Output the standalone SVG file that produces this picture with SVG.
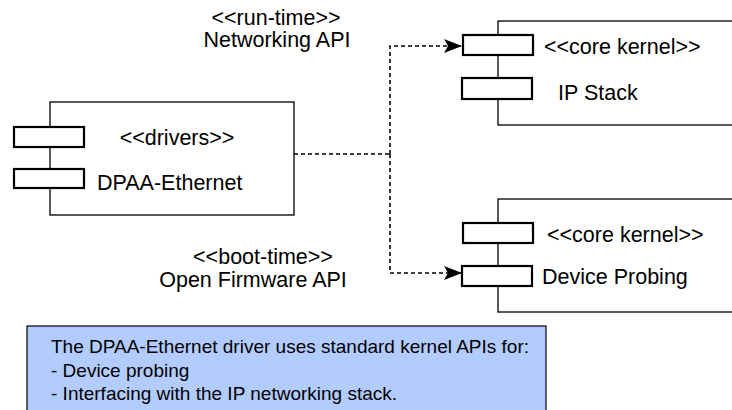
<svg xmlns="http://www.w3.org/2000/svg" width="732" height="410" viewBox="0 0 732 410">
<style>
  .box { fill: #ffffff; stroke: #000000; stroke-width: 1.3; }
  .port { fill: #ffffff; stroke: #000000; stroke-width: 2.2; }
  .lbl { font-family: "Liberation Sans", Arial, Helvetica, sans-serif; font-size: 21.5px; fill: #000000; }
  .note { font-family: "Liberation Sans", Arial, Helvetica, sans-serif; font-size: 19px; fill: #000000; }
  .dep { fill: none; stroke: #000000; stroke-width: 1.6; stroke-dasharray: 4 3; }
</style>
<defs>
  <marker id="arrow" markerWidth="18" markerHeight="14" refX="18" refY="7" orient="auto" markerUnits="userSpaceOnUse">
    <path d="M0,0 L18,7 L0,14 L4,7 Z" fill="#000000"/>
  </marker>
</defs>
<rect width="732" height="410" fill="#ffffff"/>

<g id="drivers">
  <rect class="box" x="50" y="102" width="244" height="113"/>
  <rect class="port" x="14" y="127" width="70" height="20"/>
  <rect class="port" x="14" y="169" width="70" height="19"/>
  <text class="lbl" x="177" y="145" text-anchor="middle">&lt;&lt;drivers&gt;&gt;</text>
  <text class="lbl" x="97" y="190">DPAA-Ethernet</text>
</g>

<g id="ip-stack">
  <rect class="box" x="498" y="21" width="250" height="104"/>
  <rect class="port" x="463" y="35" width="70" height="20"/>
  <rect class="port" x="462" y="78" width="70" height="21"/>
  <text class="lbl" x="544" y="54">&lt;&lt;core kernel&gt;&gt;</text>
  <text class="lbl" x="558" y="100">IP Stack</text>
</g>

<g id="device-probing">
  <rect class="box" x="498" y="199" width="250" height="113"/>
  <rect class="port" x="463" y="223" width="70" height="20"/>
  <rect class="port" x="462" y="266" width="70" height="20"/>
  <text class="lbl" x="547" y="242">&lt;&lt;core kernel&gt;&gt;</text>
  <text class="lbl" x="542" y="284">Device Probing</text>
</g>

<g id="connectors">
  <path class="dep" d="M294,154 L390,154"/>
  <path class="dep" d="M390,154 L390,46 L462,46" marker-end="url(#arrow)"/>
  <path class="dep" d="M390,154 L390,273 L462,273" marker-end="url(#arrow)"/>
</g>

<g id="label-runtime">
  <text class="lbl" x="276" y="25" text-anchor="middle">&lt;&lt;run-time&gt;&gt;</text>
  <text class="lbl" x="277" y="47" text-anchor="middle">Networking API</text>
</g>

<g id="label-boottime">
  <text class="lbl" x="263" y="264" text-anchor="middle">&lt;&lt;boot-time&gt;&gt;</text>
  <text class="lbl" x="253" y="287" text-anchor="middle">Open Firmware API</text>
</g>

<g id="note">
  <rect x="27" y="326" width="519" height="100" fill="#b3ccff" stroke="#000000" stroke-width="1.2"/>
  <text class="note" x="51" y="353">The DPAA-Ethernet driver uses standard kernel APIs for:</text>
  <text class="note" x="51" y="377">- Device probing</text>
  <text class="note" x="51" y="400">- Interfacing with the IP networking stack.</text>
</g>
</svg>
